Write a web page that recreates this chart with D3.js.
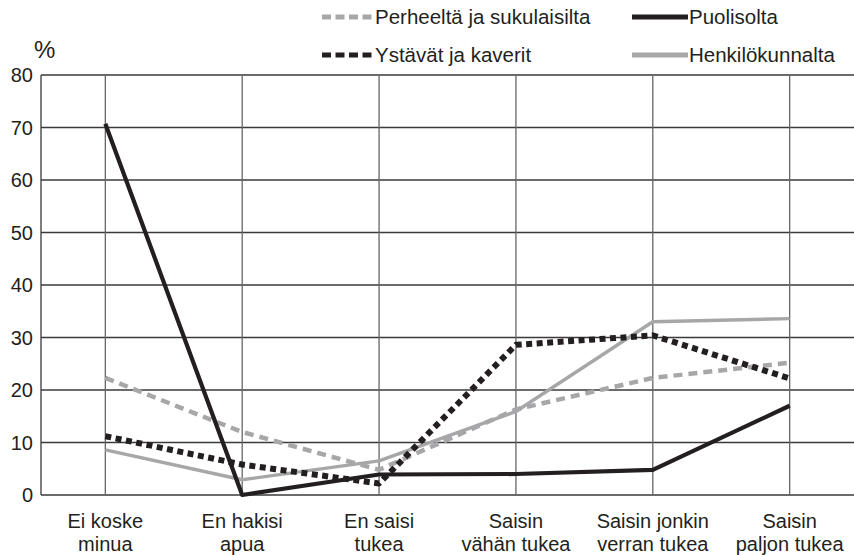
<!DOCTYPE html>
<html>
<head>
<meta charset="utf-8">
<script src="https://cdn.jsdelivr.net/npm/d3@7"></script>
<style>
  body { margin: 0; background: #fff; }
  svg { display: block; font-family: "Liberation Sans", Arial, sans-serif; }
</style>
</head>
<body>
<div id="workspace"></div>
<script>
// categories (x axis, two lines each)
var categories = [
  ["Ei koske", "minua"],
  ["En hakisi", "apua"],
  ["En saisi", "tukea"],
  ["Saisin", "vähän tukea"],
  ["Saisin jonkin", "verran tukea"],
  ["Saisin", "paljon tukea"]
];
var yTicks = [0, 10, 20, 30, 40, 50, 60, 70, 80];

// series values (%)
var perheelta = [22.3, 12.0, 4.8, 16.3, 22.3, 25.2];
var puolisolta = [70.7, 0, 3.9, 4.0, 4.8, 17.0];
var ystavat = [11.2, 5.8, 2.2, 28.6, 30.4, 22.2];
var henkilokunnalta = [8.6, 2.9, 6.5, 15.9, 33.0, 33.6];

var series = [
  { name: "Perheeltä ja sukulaisilta", values: perheelta, color: "#a7a7a9", width: 4.5, dash: "9,6", lx: 322, ly: 17 },
  { name: "Puolisolta", values: puolisolta, color: "#231f20", width: 4.2, dash: null, lx: 632, ly: 17 },
  { name: "Ystävät ja kaverit", values: ystavat, color: "#231f20", width: 6, dash: "6,4.5", lx: 322, ly: 55 },
  { name: "Henkilökunnalta", values: henkilokunnalta, color: "#a7a7a9", width: 3.4, dash: null, lx: 632, ly: 55 }
];

var W = 854, H = 555;
var svg = d3.select("#workspace")
  .append("svg")
  .attr("width", W)
  .attr("height", H);

var plotLeft = 41, plotRight = 854, plotTop = 75, plotBottom = 495;

var x = d3.scalePoint()
  .domain(d3.range(categories.length))
  .range([plotLeft, plotRight])
  .padding(0.47);

var y = d3.scaleLinear()
  .domain([0, 80])
  .range([plotBottom, plotTop]);

// horizontal grid
svg.append("g")
  .selectAll("line")
  .data(yTicks)
  .join("line")
  .attr("x1", plotLeft)
  .attr("x2", plotRight)
  .attr("y1", function(d) { return y(d); })
  .attr("y2", function(d) { return y(d); })
  .attr("stroke", "#3a3a3a")
  .attr("stroke-width", 1.3);

// vertical grid
svg.append("g")
  .selectAll("line")
  .data(d3.range(categories.length))
  .join("line")
  .attr("x1", function(d) { return x(d); })
  .attr("x2", function(d) { return x(d); })
  .attr("y1", plotTop)
  .attr("y2", plotBottom)
  .attr("stroke", "#666")
  .attr("stroke-width", 1.3);

// left axis line
svg.append("line")
  .attr("x1", plotLeft).attr("x2", plotLeft)
  .attr("y1", plotTop).attr("y2", plotBottom)
  .attr("stroke", "#3a3a3a")
  .attr("stroke-width", 1.3);

// y tick labels
svg.append("g")
  .selectAll("text")
  .data(yTicks)
  .join("text")
  .attr("x", 33)
  .attr("y", function(d) { return y(d); })
  .attr("dy", "0.36em")
  .attr("text-anchor", "end")
  .attr("font-size", "20px")
  .attr("fill", "#231f20")
  .text(function(d) { return d; });

svg.append("text")
  .attr("x", 34)
  .attr("y", 58)
  .attr("font-size", "24px")
  .attr("fill", "#231f20")
  .text("%");

// x labels
var xl = svg.append("g")
  .selectAll("text")
  .data(categories)
  .join("text")
  .attr("x", function(d, i) { return x(i); })
  .attr("y", 528)
  .attr("text-anchor", "middle")
  .attr("font-size", "20px")
  .attr("fill", "#231f20");
xl.append("tspan")
  .attr("x", function(d, i) { return x(i); })
  .text(function(d) { return d[0]; });
xl.append("tspan")
  .attr("x", function(d, i) { return x(i); })
  .attr("dy", 23)
  .text(function(d) { return d[1]; });

// lines
var line = d3.line()
  .x(function(d, i) { return x(i); })
  .y(function(d) { return y(d); });

var drawOrder = [series[3], series[0], series[1], series[2]];
svg.append("g")
  .selectAll("path")
  .data(drawOrder)
  .join("path")
  .attr("d", function(s) { return line(s.values); })
  .attr("fill", "none")
  .attr("stroke", function(s) { return s.color; })
  .attr("stroke-width", function(s) { return s.width; })
  .attr("stroke-dasharray", function(s) { return s.dash; })
  .attr("stroke-linejoin", "round");

// legend
var lg = svg.append("g")
  .selectAll("g")
  .data(series)
  .join("g");
lg.append("line")
  .attr("x1", function(s) { return s.lx; })
  .attr("x2", function(s) { return s.lx + (s.dash ? 50 : 56); })
  .attr("y1", function(s) { return s.ly; })
  .attr("y2", function(s) { return s.ly; })
  .attr("stroke", function(s) { return s.color; })
  .attr("stroke-width", 5)
  .attr("stroke-dasharray", function(s) { return s.dash ? "9,4.5" : null; });
lg.append("text")
  .attr("x", function(s) { return s.lx + (s.dash ? 53 : 57); })
  .attr("y", function(s) { return s.ly; })
  .attr("dy", "0.36em")
  .attr("font-size", "20.5px")
  .attr("fill", "#231f20")
  .text(function(s) { return s.name; });
</script>
</body>
</html>
